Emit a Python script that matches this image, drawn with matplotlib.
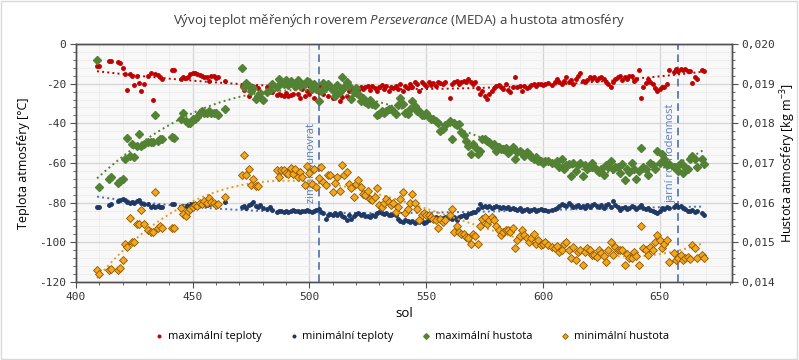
import numpy as np
import matplotlib
matplotlib.use("Agg")
import matplotlib.pyplot as plt
from matplotlib.ticker import MultipleLocator, FuncFormatter
from matplotlib.patches import Rectangle

nan = float("nan")

# Data --------------------------------------------------------------------
sol = [409, 410, 414, 415, 418, 419, 420, 421, 422, 423,
       424, 425, 426, 427, 428, 429, 431, 432, 433, 434,
       435, 436, 437, 441, 442, 445, 446, 447, 448, 449,
       450, 451, 452, 453, 454, 455, 456, 457, 458, 459,
       460, 461, 464, 471, 472, 473, 474, 475, 476, 477,
       478, 479, 480, 482, 483, 484, 486, 487, 488, 489,
       490, 491, 492, 493, 494, 495, 496, 497, 498, 499,
       500, 501, 502, 503, 504, 505, 506, 507, 508, 509,
       510, 511, 512, 513, 514, 515, 516, 517, 518, 519,
       520, 521, 522, 523, 524, 525, 526, 527, 528, 529,
       530, 531, 532, 533, 534, 535, 536, 537, 538, 539,
       540, 541, 542, 543, 544, 545, 546, 547, 548, 549,
       550, 551, 552, 553, 554, 555, 556, 557, 558, 560,
       561, 562, 563, 564, 565, 566, 567, 568, 569, 570,
       571, 572, 573, 574, 575, 576, 577, 578, 579, 580,
       581, 582, 583, 584, 585, 586, 587, 588, 589, 590,
       591, 592, 593, 594, 595, 596, 597, 598, 599, 600,
       601, 602, 604, 605, 606, 607, 608, 609, 610, 611,
       612, 613, 614, 615, 616, 617, 618, 619, 620, 621,
       622, 623, 624, 625, 626, 627, 628, 629, 630, 631,
       632, 633, 634, 635, 636, 637, 638, 639, 640, 641,
       642, 643, 644, 645, 646, 647, 648, 649, 650, 651,
       652, 653, 654, 656, 657, 658, 659, 660, 661, 662,
       663, 664, 665, 666, 668, 669]

# max / min temperature [degC]
t_max = [-11, -11, -8.5, -8.5, -9, -9.5, -12, -15, -23, -15,
         -16, -20.7, -16, -19.6, -23.5, -20.2, -16, -14.8, -28, -15,
         -15.5, -16.8, -17.5, -13, -13, -17.5, -16.5, -17, -16.5, -15,
         -14.8, -14.8, -15.1, -15.5, -16, -16.8, -16.8, -18.5, -16.3, -16.3,
         -17, -16.5, -18.7, -21.3, -23, -21, -26, -21.5, -22, -21.5,
         -22.3, -24, -28.6, -21.9, -22.5, -24, -25.5, -25, -25.5, -26,
         -24.5, -26, -25.5, -25, -22, -25.2, -27, -22.7, -26, -23.5,
         -25.2, -21.8, -27, -22.7, -24, -21, -25, -22, -26, -21.8,
         -27, -22.7, -25.5, -28.6, -26.9, -22.5, -26, -23.5, -22.7, -25,
         -21.8, -23, -21.8, -22.5, -21.8, -21, -23, -21, -22, -23.5,
         -21.8, -20.5, -22.7, -21, -23.5, -21.8, -22, -21, -22.7, -20.2,
         -23.5, -21, -22, -20.2, -21.8, -19.3, -20.2, -23.5, -19.3, -20.2,
         -21, -19.3, -20.5, -19.8, -21, -19.3, -19.5, -20.2, -19.3, -27,
         -20.2, -19.3, -18.5, -20.2, -19.3, -18.5, -19.3, -17.6, -19, -20.2,
         -19.3, -22, -25.2, -23.5, -26, -27.7, -25.2, -23.5, -22, -21,
         -20.5, -21.8, -22.7, -20, -23, -24.4, -21.8, -16.8, -21.8, -21,
         -23.5, -21, -22, -21.5, -20.5, -20, -21, -20, -20.2, -20.5,
         -20, -19.5, -20.5, -19, -17.6, -19.3, -20, -18.5, -16.8, -19,
         -18, -20, -17.5, -16, -14.8, -18.5, -19.3, -18, -16.8, -17.6,
         -16.8, -18, -17.2, -16.8, -17.6, -19, -20, -21.8, -19.3, -17.5,
         -16.8, -16, -18, -16.8, -17.6, -16, -16, -18.5, -17.6, -13,
         -27.2, -21.8, -19.5, -17.6, -19, -20, -22, -23.5, -22.7, -21.5,
         -21.5, -20, -13, -14, -12.6, -13.4, -12.6, -13, -12.6, -13.4,
         -13.5, -19.8, -16.8, -17.6, -13, -13.5]

t_min = [-82, -82, -81, -80.5, -79, -78.5, -78, -78.5, -79.5, -80,
         -79.5, -80, -79, -78.5, -80, -80.5, -80.5, -82, -81.5, -82,
         -81.5, -82, -82, -80.5, -80.5, -82, -81.5, -81.5, -81, -80.5,
         -80.5, -81, -80.5, -81, -80.5, -80, -81, -80.5, -80, -80.5,
         -81, -80.5, -79.5, -82, -81.5, -82.5, -81, -80.5, -79.5, -81.5,
         -82, -81, -82.5, -83, -82, -83.5, -84.5, -84, -84, -84.5,
         -84, -84.5, -84, -83.5, -84, -84, -84.5, -84, -84, -83.5,
         -84, -84.5, -84, -83.5, -83, -84.5, -85.4, -88.3, -86, -85.5,
         -86, -85, -86, -85.4, -86.5, -87, -88.8, -86, -88, -86.5,
         -85.5, -85.4, -86, -85.5, -86.5, -86.5, -87, -86, -86.5, -85.4,
         -84.5, -85, -85.5, -85.4, -86, -86, -85.5, -86, -88, -89,
         -89.5, -88.5, -89, -89.5, -89, -90, -89, -89.5, -89, -90.4,
         -89.5, -88.5, -87, -88, -87, -87.5, -88, -87.5, -87, -87.5,
         -88, -87, -88.5, -87, -86.5, -86, -87, -85.5, -85, -84.5,
         -84.5, -83, -80.7, -82, -81.5, -82, -81.5, -82.5, -82, -81.5,
         -82, -82.5, -82, -82.5, -82, -83, -82.5, -83, -83.5, -82.5,
         -84, -83.5, -83, -84, -83.5, -83, -84, -83.5, -83, -83.7,
         -83.5, -84, -83.7, -83, -82.5, -81.5, -80.5, -81, -81.5, -80.3,
         -81, -82, -81.5, -81, -82, -81.5, -82.5, -81, -82, -81,
         -80.5, -81.5, -82, -81, -82.5, -81, -80.5, -82, -79.2, -81,
         -82, -83.7, -82.5, -82, -83, -82.5, -81.5, -82, -83, -82,
         -81, -82.5, -83, -82.5, -83.7, -84, -84.5, -85.4, -84, -82.5,
         -83, -82, -82.5, -82, -81, -82, -81.5, -82.5, -83, -84,
         -84, -83.7, -84.5, -84, -85, -86]

# max / min atmospheric density [kg m^-3]
rho_max = [0.01960, 0.01640, 0.01660, 0.01665, 0.01650, 0.01655, 0.01660, 0.01710, 0.01762, 0.01718,
           0.01748, 0.01715, 0.01743, 0.01772, 0.01742, 0.01748, 0.01752, 0.01752, 0.01752, 0.01820,
           0.01756, 0.01760, 0.01760, 0.01765, 0.01762, 0.01811, 0.01825, 0.01807, 0.01800, 0.01802,
           0.01810, 0.01812, 0.01815, 0.01825, 0.01830, 0.01827, 0.01825, 0.01830, 0.01825, 0.01825,
           0.01827, 0.01822, 0.01836, 0.01940, 0.01891, 0.01901, 0.01895, 0.01882, 0.01890, 0.01861,
           0.01870, 0.01877, 0.01860, 0.01880, 0.01885, 0.01900, 0.01891, 0.01912, 0.01902, 0.01900,
           0.01909, 0.01897, 0.01907, 0.01899, 0.01895, 0.01910, 0.01895, 0.01900, 0.01899, 0.01907,
           0.01905, 0.01886, 0.01900, 0.01886, 0.01857, 0.01882, 0.01902, 0.01891, 0.01899, 0.01891,
           0.01885, 0.01870, 0.01897, 0.01880, 0.01916, 0.01891, 0.01905, 0.01895, 0.01861, 0.01878,
           0.01890, 0.01874, 0.01857, 0.01865, 0.01853, 0.01849, 0.01860, 0.01849, 0.01845, 0.01820,
           0.01823, 0.01830, 0.01827, 0.01832, 0.01836, 0.01835, 0.01832, 0.01823, 0.01845, 0.01865,
           0.01850, 0.01827, 0.01823, 0.01835, 0.01857, 0.01844, 0.01830, 0.01832, 0.01820, 0.01820,
           0.01825, 0.01815, 0.01811, 0.01810, 0.01806, 0.01800, 0.01781, 0.01785, 0.01795, 0.01806,
           0.01760, 0.01802, 0.01795, 0.01798, 0.01777, 0.01770, 0.01756, 0.01743, 0.01722, 0.01748,
           0.01740, 0.01722, 0.01731, 0.01760, 0.01760, 0.01756, 0.01752, 0.01745, 0.01748, 0.01731,
           0.01740, 0.01735, 0.01735, 0.01739, 0.01725, 0.01731, 0.01740, 0.01710, 0.01727, 0.01731,
           0.01725, 0.01718, 0.01727, 0.01722, 0.01715, 0.01710, 0.01715, 0.01706, 0.01705, 0.01701,
           0.01706, 0.01706, 0.01701, 0.01700, 0.01705, 0.01690, 0.01710, 0.01685, 0.01695, 0.01697,
           0.01666, 0.01701, 0.01680, 0.01695, 0.01701, 0.01666, 0.01694, 0.01685, 0.01690, 0.01700,
           0.01689, 0.01682, 0.01677, 0.01685, 0.01670, 0.01694, 0.01690, 0.01706, 0.01685, 0.01689,
           0.01689, 0.01675, 0.01697, 0.01656, 0.01685, 0.01677, 0.01700, 0.01685, 0.01660, 0.01680,
           0.01738, 0.01690, 0.01685, 0.01670, 0.01701, 0.01695, 0.01685, 0.01731, 0.01700, 0.01722,
           0.01710, 0.01695, 0.01697, 0.01689, 0.01689, 0.01680, 0.01701, 0.01675, 0.01689, 0.01685,
           0.01710, 0.01718, 0.01710, 0.01690, 0.01710, 0.01697]

rho_min = [0.01430, 0.01420, 0.01430, 0.01432, 0.01430, 0.01435, 0.01455, 0.01495, 0.01487, 0.01562,
           0.01502, 0.01500, 0.01545, 0.01547, 0.01582, 0.01545, 0.01532, 0.01527, 0.01525, 0.01627,
           0.01535, 0.01540, 0.01537, 0.01537, 0.01537, 0.01587, 0.01572, 0.01567, 0.01580, 0.01585,
           0.01590, 0.01595, 0.01592, 0.01600, 0.01597, 0.01605, 0.01600, 0.01612, 0.01602, 0.01600,
           0.01595, 0.01597, 0.01615, 0.01670, 0.01720, 0.01670, 0.01686, 0.01645, 0.01659, 0.01642,
           0.01642, nan, nan, nan, nan, nan, 0.01682, 0.01665, 0.01682, 0.01682,
           0.01676, 0.01672, 0.01687, 0.01672, 0.01686, 0.01665, 0.01678, 0.01665, 0.01644, 0.01692,
           0.01674, 0.01648, 0.01685, 0.01640, 0.01661, 0.01690, 0.01653, 0.01644, 0.01670, 0.01669,
           0.01627, 0.01650, 0.01665, 0.01630, 0.01695, 0.01669, 0.01678, 0.01648, 0.01636, 0.01615,
           0.01648, 0.01657, 0.01640, 0.01623, 0.01619, 0.01630, 0.01610, 0.01606, 0.01615, 0.01636,
           0.01594, 0.01589, 0.01598, 0.01610, 0.01602, 0.01594, 0.01598, 0.01577, 0.01590, 0.01610,
           0.01627, 0.01573, 0.01585, 0.01600, 0.01621, 0.01598, 0.01585, 0.01556, 0.01570, 0.01573,
           0.01568, 0.01570, 0.01564, 0.01560, 0.01556, 0.01537, 0.01560, 0.01552, 0.01556, 0.01570,
           0.01583, 0.01526, 0.01540, 0.01526, 0.01520, 0.01522, 0.01514, 0.01510, 0.01497, 0.01522,
           0.01515, 0.01495, 0.01540, 0.01560, 0.01564, 0.01545, 0.01556, 0.01564, 0.01556, 0.01541,
           0.01530, 0.01518, 0.01525, 0.01531, 0.01531, 0.01525, 0.01535, 0.01485, 0.01505, 0.01515,
           0.01531, 0.01518, 0.01510, 0.01501, 0.01510, 0.01522, 0.01497, 0.01505, 0.01493, 0.01497,
           0.01500, 0.01493, 0.01489, 0.01485, 0.01490, 0.01476, 0.01480, 0.01497, 0.01501, 0.01480,
           0.01460, 0.01489, 0.01455, 0.01475, 0.01480, 0.01442, 0.01475, 0.01485, 0.01480, 0.01468,
           0.01468, 0.01463, 0.01480, 0.01472, 0.01465, 0.01451, 0.01480, 0.01501, 0.01468, 0.01489,
           0.01480, 0.01480, 0.01480, 0.01442, 0.01470, 0.01460, 0.01460, 0.01476, 0.01465, 0.01442,
           0.01541, 0.01485, 0.01480, 0.01468, 0.01489, 0.01480, 0.01500, 0.01518, 0.01505, 0.01485,
           0.01495, 0.01505, 0.01451, 0.01472, 0.01455, 0.01460, 0.01468, 0.01455, 0.01460, 0.01463,
           0.01457, 0.01493, 0.01485, 0.01460, 0.01468, 0.01460]

# solstice / equinox markers
events_sol = [504, 658]
events_label = ["zimní slunovrat", "jarní rovnodennost"]

# Styling ---------------------------------------------------------------
plt.rcParams['font.family'] = ['Open Sans', 'DejaVu Sans']
plt.rcParams['mathtext.fontset'] = 'custom'
plt.rcParams['mathtext.rm'] = 'Open Sans'
plt.rcParams['mathtext.it'] = 'Open Sans:italic'

c_tmax = '#c00000'
c_tmin = '#1f3864'
c_rmax = '#548235'
c_rmin = '#f2a81d'
c_rmin_edge = '#8f5600'
c_event = '#3f62a6'

fig = plt.figure(figsize=(7.99, 3.6), dpi=100)
fig.patches.append(Rectangle((0.001, 0.002), 0.997, 0.995, transform=fig.transFigure,
                             fill=False, edgecolor='#d9d9d9', lw=1))
ax = fig.add_axes([76/799, 1-282/360, (732-76)/799, (282-44)/360])
ax2 = ax.twinx()

ax.set_facecolor('#f8f8f8')
ax.set_xlim(400, 681)
ax.set_ylim(-120, 0)
ax2.set_ylim(0.014, 0.020)

ax.xaxis.set_major_locator(MultipleLocator(50))
ax.xaxis.set_minor_locator(MultipleLocator(10))
ax.yaxis.set_major_locator(MultipleLocator(20))
ax.yaxis.set_minor_locator(MultipleLocator(4))
ax2.yaxis.set_major_locator(MultipleLocator(0.001))
ax2.yaxis.set_minor_locator(MultipleLocator(0.0002))
ax.yaxis.set_major_formatter(FuncFormatter(lambda v, p: "%d" % v))
ax2.yaxis.set_major_formatter(FuncFormatter(lambda v, p: ("%.3f" % v).replace('.', ',')))

ax.grid(which='major', color='#d4d4d4', lw=0.9)
ax.grid(which='minor', color='#ebebeb', lw=0.6)
ax.set_axisbelow(True)

for a in (ax, ax2):
    for s in a.spines.values():
        s.set_color('#505050')
        s.set_linewidth(1)
    a.tick_params(which='both', direction='out', colors='#505050', labelcolor='#333333')
    a.tick_params(which='major', length=4, labelsize=8, pad=3,
                  labelfontfamily='DejaVu Sans Mono')
    a.tick_params(which='minor', length=2.5)

# event lines
for s, lab in zip(events_sol, events_label):
    ax.axvline(s, color=c_event, ls=(0, (5, 3)), lw=1.1, zorder=1.5)
    ax.text(s - 0.8, -80, lab, rotation=90, ha='right', va='bottom',
            color='#5a7dbb', fontsize=8, zorder=1.6)

# trend lines (polynomial fits of the data)
def trend(a, x, y, color, deg):
    x = np.asarray(x, float)
    y = np.asarray(y, float)
    ok = ~np.isnan(y)
    p = np.polyfit(x[ok], y[ok], deg)
    xs = np.linspace(x[ok].min(), x[ok].max(), 300)
    a.plot(xs, np.polyval(p, xs), ls=':', lw=1.4, color=color, zorder=2)

trend(ax, sol, t_max, c_tmax, 2)
trend(ax, sol, t_min, '#4a6fc0', 3)
trend(ax2, sol, rho_max, c_rmax, 4)
trend(ax2, sol, rho_min, '#e0a020', 3)

h1, = ax.plot(sol, t_max, 'o', ms=2.5, color=c_tmax, ls='none', zorder=3,
              label='maximální teploty')
h2, = ax.plot(sol, t_min, 'o', ms=2.5, color=c_tmin, ls='none', zorder=3,
              label='minimální teploty')
h3, = ax2.plot(sol, rho_max, 'D', ms=3.8, color=c_rmax, ls='none', zorder=3,
               label='maximální hustota')
h4, = ax2.plot(sol, rho_min, 'D', ms=3.9, mfc=c_rmin, mec=c_rmin_edge, mew=0.6,
               ls='none', zorder=3, label='minimální hustota')

ax.set_xlabel('sol', fontsize=9.5, labelpad=4)
ax.set_ylabel('Teplota atmosféry [°C]', fontsize=9, labelpad=7)
ax2.set_ylabel('Hustota atmosféry [kg m$^{-3}$]', fontsize=9, labelpad=2)

fig.text(0.5, 0.942, 'Vývoj teplot měřených roverem $\\mathit{Perseverance}$ (MEDA) a hustota atmosféry',
         ha='center', va='center', fontsize=9.5, color='#404040')

fig.legend(handles=[h1, h2, h3, h4], loc='center', bbox_to_anchor=(0.515, 0.064),
           ncol=4, frameon=False, fontsize=8, handlelength=0.8, handletextpad=0.4,
           columnspacing=2.5, markerscale=0.75)

fig.savefig('out.png', dpi=100)
